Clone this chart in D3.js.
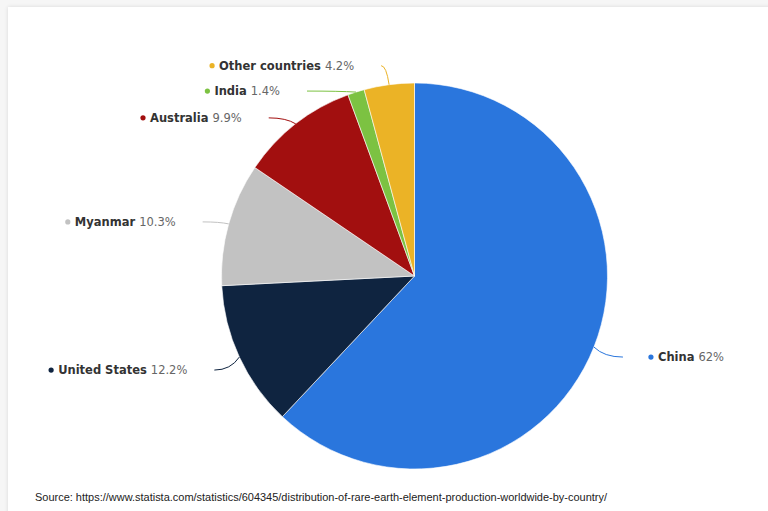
<!DOCTYPE html>
<html>
<head>
<meta charset="utf-8">
<script src="https://cdn.jsdelivr.net/npm/d3@7"></script>
<style>
  html, body { margin: 0; padding: 0; background: #f6f6f6; }
  #chart { position: absolute; left: 8px; top: 7px; width: 768px; height: 520px;
           background: #fff; box-shadow: 0 0 4px rgba(0,0,0,0.12); }
  svg { position: absolute; left: 0; top: 0; }
</style>
</head>
<body>
<div id="chart"></div>
<script>
// data
const countries = ["China", "United States", "Myanmar", "Australia", "India", "Other countries"];
const shares = [62, 12.2, 10.3, 9.9, 1.4, 4.2];
const colors = ["#2a76dd", "#0f2440", "#c2c2c2", "#a20f0f", "#7cc242", "#ebb326"];

// label placement, offset of the label anchor from the slice edge point
const labelOffset = {
    "China": [56, 10],
    "United States": [-52, 13],
    "Myanmar": [-53, -2],
    "Australia": [-54, -6],
    "India": [-76, -1],
    "Other countries": [-35, -19]
};

function drawPie() {
    const width = 768, height = 511;
    const cx = 414.5, cy = 276, radius = 193;

    const svg = d3.select("#chart")
        .append("svg")
        .attr("width", width)
        .attr("height", height)
        .attr("transform", "translate(-8,-7)");

    const data = countries.map((c, i) => ({ name: c, value: shares[i], color: colors[i] }));

    const pie = d3.pie().sort(null).value(d => d.value);
    const arc = d3.arc().innerRadius(0).outerRadius(radius);

    const g = svg.append("g").attr("transform", "translate(" + cx + "," + cy + ")");

    const arcs = pie(data);

    g.selectAll("path.slice")
        .data(arcs)
        .enter()
        .append("path")
        .attr("class", "slice")
        .attr("d", arc)
        .attr("fill", d => d.data.color)
        .attr("stroke", "#fff")
        .attr("stroke-width", 0.6);

    // labels + connectors
    arcs.forEach(d => {
        const mid = (d.startAngle + d.endAngle) / 2;
        const ex = Math.sin(mid) * radius, ey = -Math.cos(mid) * radius;
        const off = labelOffset[d.data.name];
        const lx = ex + off[0], ly = ey + off[1];
        const right = off[0] > 0;
        const side = right ? -1 : 1;
        const sx = lx + side * 27;   // connector start next to label

        g.append("path")
            .attr("d", "M" + sx + "," + ly +
                " Q" + (ex + (sx - ex) * 0.35) + "," + ly +
                " " + ex + "," + ey)
            .attr("fill", "none")
            .attr("stroke", d.data.color)
            .attr("stroke-width", 1);

        const t = g.append("text")
            .attr("x", right ? lx + 8 : lx)
            .attr("y", ly)
            .attr("dy", "0.35em")
            .attr("text-anchor", right ? "start" : "end")
            .style("font-family", "'DejaVu Sans', sans-serif")
            .style("font-size", "11.5px");
        t.append("tspan")
            .style("font-weight", "bold")
            .style("fill", "#333")
            .text(d.data.name + " ");
        t.append("tspan")
            .style("fill", "#666")
            .text(d.data.value + "%");

        const bb = t.node().getBBox();
        g.append("circle")
            .attr("cx", bb.x - 7)
            .attr("cy", ly)
            .attr("r", 2.6)
            .attr("fill", d.data.color);
    });

    svg.append("text")
        .attr("x", 35)
        .attr("y", 501)
        .attr("textLength", 572)
        .attr("lengthAdjust", "spacingAndGlyphs")
        .style("font-family", "'Liberation Sans', sans-serif")
        .style("font-size", "11px")
        .style("fill", "#222")
        .text("Source: https://www.statista.com/statistics/604345/distribution-of-rare-earth-element-production-worldwide-by-country/");
}

drawPie();
</script>
</body>
</html>
